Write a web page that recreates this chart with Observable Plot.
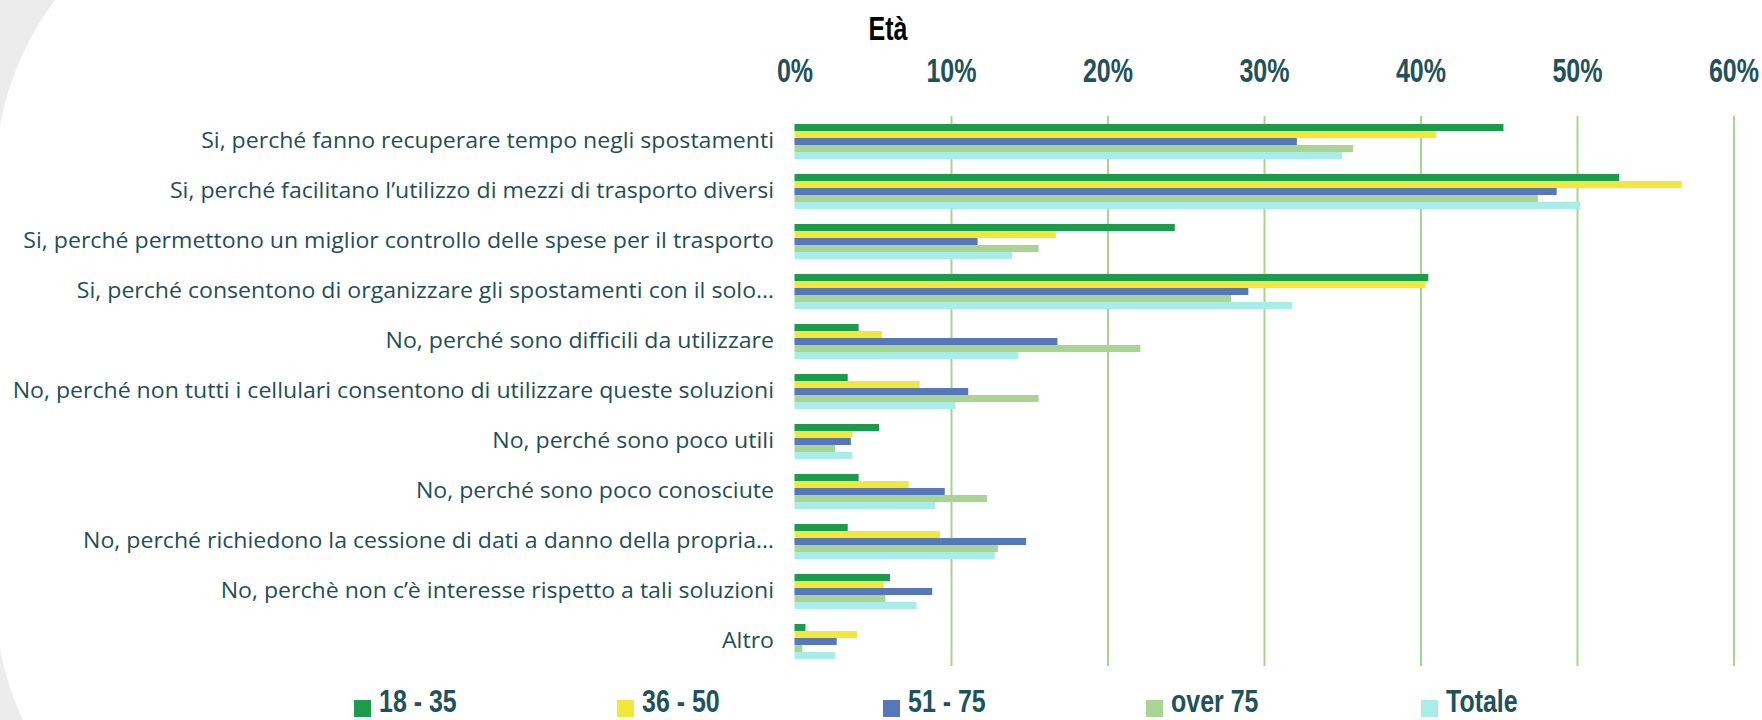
<!DOCTYPE html>
<html>
<head>
<meta charset="utf-8">
<script src="https://cdn.jsdelivr.net/npm/d3@7"></script>
<script src="https://cdn.jsdelivr.net/npm/@observablehq/plot@0.6"></script>
<style>
  html, body { margin: 0; padding: 0; width: 1762px; height: 720px; overflow: hidden; background: #ececec; }
  #card { position: absolute; left: -5px; top: -120px; width: 2000px; height: 1014px; border-radius: 300px; background: #ffffff; }
  #wrap { position: absolute; left: 0; top: 0; width: 1762px; height: 720px; }
  #title { position: relative; height: 50px; width: 1762px; }
  #title span { position: absolute; left: 888px; top: 28px; transform: translate(-50%, -50%) scaleX(0.76); font-family: "Liberation Sans", Arial, sans-serif; font-weight: bold; font-size: 33px; line-height: 33px; color: #000; white-space: nowrap; }
  #legend { position: relative; width: 1762px; height: 44px; }
  .sw { position: absolute; top: 24px; width: 17px; height: 17px; }
  .lb { position: absolute; top: 10px; font-family: "Liberation Sans", Arial, sans-serif; font-weight: bold; font-size: 32px; line-height: 30px; color: #21525a; white-space: nowrap; transform: scaleX(0.78); transform-origin: 0 0; }
</style>
</head>
<body>
<div id="card"></div>
<div id="wrap">
  <div id="title"><span>Età</span></div>
  <div id="chart"></div>
  <div id="legend"></div>
</div>
<script>
const titleText = "Età";
const categories = [
  "Si, perché fanno recuperare tempo negli spostamenti",
  "Si, perché facilitano l’utilizzo di mezzi di trasporto diversi",
  "Si, perché permettono un miglior controllo delle spese per il trasporto",
  "Si, perché consentono di organizzare gli spostamenti con il solo…",
  "No, perché sono difficili da utilizzare",
  "No, perché non tutti i cellulari consentono di utilizzare queste soluzioni",
  "No, perché sono poco utili",
  "No, perché sono poco conosciute",
  "No, perché richiedono la cessione di dati a danno della propria…",
  "No, perchè non c’è interesse rispetto a tali soluzioni",
  "Altro"
];
const series = ["18 - 35", "36 - 50", "51 - 75", "over 75", "Totale"];
const colors = ["#1b9c4a", "#f2e83c", "#5677b9", "#a8d594", "#a8ede8"];
const v18_35  = [45.3, 52.7, 24.3, 40.5,  4.1,  3.4, 5.4,  4.1,  3.4, 6.1, 0.7];
const v36_50  = [41.0, 56.7, 16.7, 40.3,  5.6,  8.0, 3.7,  7.3,  9.3, 5.7, 4.0];
const v51_75  = [32.1, 48.7, 11.7, 29.0, 16.8, 11.1, 3.6,  9.6, 14.8, 8.8, 2.7];
const vOver75 = [35.7, 47.5, 15.6, 27.9, 22.1, 15.6, 2.6, 12.3, 13.0, 5.8, 0.5];
const vTotale = [35.0, 50.2, 13.9, 31.8, 14.3, 10.3, 3.7,  9.0, 12.8, 7.8, 2.6];
const xTicks = [0, 10, 20, 30, 40, 50, 60];
const gridTicks = [10, 20, 30, 40, 50, 60];

const seriesValues = [v18_35, v36_50, v51_75, vOver75, vTotale];
const data = [];
categories.forEach((c, i) => {
  series.forEach((s, j) => data.push({category: c, series: s, value: seriesValues[j][i]}));
});

document.querySelector("#title span").textContent = titleText;

const chart = Plot.plot({
  width: 1762,
  height: 626,
  marginTop: 66,
  marginBottom: 10,
  marginLeft: 794.5,
  marginRight: 28.5,
  style: {background: "transparent", overflow: "visible"},
  x: {domain: [0, 60], axis: null},
  y: {domain: series, axis: null, paddingInner: 0, paddingOuter: 0.88},
  fy: {domain: categories, padding: 0, axis: null},
  color: {domain: series, range: colors},
  marks: [
    Plot.ruleX(gridTicks, {x: d => d, stroke: "#a9d48f", strokeWidth: 2}),
    Plot.barX(data, {x: "value", y: "series", fy: "category", fill: "series", inset: 0}),
    Plot.axisX({anchor: "top", ticks: xTicks, tickSize: 0, tickPadding: 35, tickFormat: d => d + "%",
      fontSize: 33, fontFamily: "Liberation Sans", fontWeight: "bold", color: "#21525a", label: null,
      ariaLabel: "x-ticks"}),
    Plot.axisFy({anchor: "left", tickSize: 0, tickPadding: 21, fontSize: 21, fontFamily: "Open Sans",
      color: "#1f4f55", label: null, ariaLabel: "fy-ticks"})
  ]
});
document.getElementById("chart").appendChild(chart);

// horizontal squeeze / stretch of axis text (font styling only)
function scaleTexts(texts, sx) {
  texts.forEach(t => {
    let tr = t.getAttribute("transform");
    if (!tr) {
      const x = t.getAttribute("x") || 0, y = t.getAttribute("y") || 0;
      t.removeAttribute("x"); t.removeAttribute("y");
      tr = `translate(${x},${y})`;
    }
    t.setAttribute("transform", tr + ` scale(${sx},1)`);
  });
}
const allText = Array.from(chart.querySelectorAll("text"));
scaleTexts(allText.filter(t => /%$/.test(t.textContent)), 0.76);
scaleTexts(allText.filter(t => categories.includes(t.textContent)), 1.1);

const legend = document.getElementById("legend");
const swLeft = [354, 617, 883, 1146, 1421];
series.forEach((s, j) => {
  const sw = document.createElement("div");
  sw.className = "sw";
  sw.style.left = swLeft[j] + "px";
  sw.style.background = colors[j];
  const lb = document.createElement("span");
  lb.className = "lb";
  lb.style.left = (swLeft[j] + 25) + "px";
  lb.textContent = s;
  legend.appendChild(sw);
  legend.appendChild(lb);
});
</script>
</body>
</html>
